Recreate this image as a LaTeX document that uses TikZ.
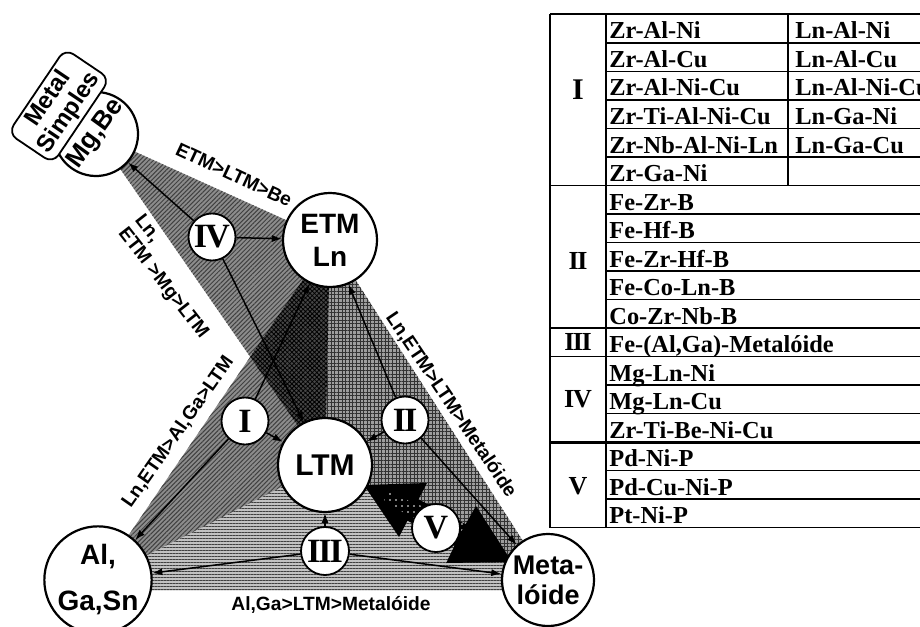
\documentclass[tikz,border=0pt]{standalone}
\usepackage{fontspec}
\setmainfont{Liberation Serif}
\setsansfont{Liberation Sans}
\usetikzlibrary{arrows.meta,patterns.meta}
\newcommand{\RomII}{I\kern-0.06em I}
\newcommand{\RomIII}{I\kern-0.06em I\kern-0.06em I}
\newcommand{\RomIV}{I\kern-0.05em V}
\begin{document}
\begin{tikzpicture}[x=0.5pt,y=-0.5pt,
  circ/.style={circle,draw=black,line width=1.1pt,fill=white,inner sep=0pt,align=center},
  numc/.style={circle,draw=black,line width=0.9pt,fill=white,inner sep=0pt,minimum size=23.5pt,font=\bfseries\fontsize{17}{17}\selectfont},
  arr/.style={line width=0.75pt,-{Latex[length=5pt,width=3.6pt]}},
  elab/.style={font=\sffamily\bfseries\fontsize{9.6}{10.5}\selectfont,inner sep=0pt},
  tabtxt/.style={anchor=base west,font=\bfseries\fontsize{12.2}{12.2}\selectfont,inner sep=0pt},
  tabnum/.style={font=\bfseries\fontsize{13}{13}\selectfont,inner sep=0pt},
  tline/.style={line width=0.7pt},
  regIII/.style={fill=black!24,postaction={pattern={Lines[angle=0,distance=1.5pt,line width=0.5pt]},pattern color=black!75}},
  regII/.style={fill=black!38,postaction={pattern={Hatch[angle=0,distance=1.8pt,line width=0.4pt]},pattern color=black!80}},
  regI/.style={fill=black!45,postaction={pattern={Lines[angle=45,distance=1.6pt,line width=0.5pt]},pattern color=black!75}},
  regX/.style={fill=black!72,postaction={pattern={Hatch[angle=45,distance=1.6pt,line width=0.4pt]},pattern color=black}},
]
\useasboundingbox (0,0) rectangle (920,626);
\fill[white] (0,0) rectangle (920,626);

% centres
\coordinate (cMg) at (96,134);
\coordinate (cETM) at (330,240);
\coordinate (cLTM) at (325,465);
\coordinate (cAl) at (98,580);
\coordinate (cMet) at (548,580);
\coordinate (X) at (intersection of cAl--cETM and cMg--cLTM);

% shaded regions
\path[regIII] (cAl) -- (cLTM) -- (cMet) -- (548,590) -- (98,590) -- cycle;
\path[regII] (cETM) -- (cLTM) -- (cMet) -- cycle;
\path[regI] (cAl) -- (cETM) -- (cLTM) -- cycle;
\path[regI] (cMg) -- (cETM) -- (cLTM) -- cycle;
\path[regX] (cETM) -- (X) -- (cLTM) -- cycle;

% V double arrow (dark)
\fill[black] (364,485) -- (427,483) -- (418.5,499.3) -- (465.5,524.3) -- (476,506)
  -- (512,562) -- (446.2,563) -- (454.5,545.7) -- (407.5,520.7) -- (399,537) -- cycle;
\fill[pattern={Dots[distance=3pt,radius=0.45pt]},pattern color=white]
  (384,500) -- (388,492) -- (465.5,524.3) -- (454.5,545.7) -- cycle;

% main circles
\node[circ,minimum size=42pt,rotate=54,font=\sffamily\bfseries\fontsize{13}{13}\selectfont] (mg) at (cMg) {Mg,Be};
\node[draw=black,line width=0.9pt,fill=white,rounded corners=5pt,rotate=56,minimum width=51pt,minimum height=27pt,inner sep=0pt,align=center,font=\sffamily\bfseries\fontsize{12}{12.5}\selectfont] (ms) at (59,106) {Metal\\Simples};
\node[circ,minimum size=47pt,font=\sffamily\bfseries\fontsize{14}{16.5}\selectfont] (etm) at (cETM) {ETM\\Ln};
\node[circ,minimum size=47pt,font=\sffamily\bfseries\fontsize{15}{15}\selectfont] (ltm) at (cLTM) {LTM};
\node[circ,minimum size=46pt,font=\sffamily\bfseries\fontsize{14}{23}\selectfont] (al) at (cAl) {Al,\\Ga,Sn};
\node[circ,minimum size=46pt,font=\sffamily\bfseries\fontsize{13.5}{15}\selectfont] (met) at (cMet) {Meta-\\lóide};

% numeral circles
\node[numc] (rI) at (245,421) {I};
\node[numc] (rII) at (405,420) {\RomII};
\node[numc,minimum size=24pt] (rIII) at (325,551) {\RomIII};
\node[numc] (rIV) at (212,237) {\RomIV};
\node[numc,minimum size=24pt] (rV) at (436,528) {V};

% arrows
\draw[arr] (rI) -- (ltm);
\draw[arr] (rI) -- (etm);
\draw[arr] (rI) -- (al);
\draw[arr] (rII) -- (etm);
\draw[arr] (rII) -- (ltm);
\draw[arr] (rII) -- (met);
\draw[arr] (rIII) -- (ltm);
\draw[arr] (rIII) -- (al);
\draw[arr] (rIII) -- (met);
\draw[arr] (rIV) -- (mg);
\draw[arr] (rIV) -- (etm);
\draw[arr] (rIV) -- (ltm);

% edge labels
\node[elab,rotate=-25] (l1) at (234,175) {ETM>LTM>Be};
\node[elab,rotate=-52,align=left] (l2) at (171,277) {Ln,\\ETM >Mg>LTM};
\node[elab,rotate=55] (l3) at (178,432) {Ln,ETM>Al,Ga>LTM};
\node[elab,rotate=-56] (l4) at (451,405) {Ln,ETM>LTM>Metalóide};
\node[elab] (l5) at (331,605) {Al,Ga>LTM>Metalóide};

% table
\foreach \yy in {14,185.5,328,356.5,527.5} \draw[tline] (550,\yy) -- (920,\yy);
\draw[line width=1.5pt] (550,442) -- (920,442);
\foreach \yy in {43,71.5,100,128.5,157,214,242.5,271,299.5,385,413.5,470.5,499} \draw[tline] (606,\yy) -- (920,\yy);
\draw[tline] (550,14) -- (550,527.5);
\draw[tline] (606,14) -- (606,527.5);
\draw[tline] (788,14) -- (788,185.5);

\foreach \txt [count=\i] in {Zr-Al-Ni,Zr-Al-Cu,Zr-Al-Ni-Cu,Zr-Ti-Al-Ni-Cu,Zr-Nb-Al-Ni-Ln,Zr-Ga-Ni,Fe-Zr-B,Fe-Hf-B,Fe-Zr-Hf-B,Fe-Co-Ln-B,Co-Zr-Nb-B,{Fe-(Al,Ga)-Metalóide},Mg-Ln-Ni,Mg-Ln-Cu,Zr-Ti-Be-Ni-Cu,Pd-Ni-P,Pd-Cu-Ni-P,Pt-Ni-P}
  \node[tabtxt] (ta\i) at (609,28.5*\i+10.5) {\txt};
\foreach \txt [count=\i] in {Ln-Al-Ni,Ln-Al-Cu,Ln-Al-Ni-Cu,Ln-Ga-Ni,Ln-Ga-Cu}
  \node[tabtxt] (tb\i) at (795,28.5*\i+10.5) {\txt};

\node[tabnum,font=\bfseries\fontsize{15}{15}\selectfont] (nI) at (578,90) {I};
\node[tabnum] (nII) at (578,261) {\RomII};
\node[tabnum] (nIII) at (578,342) {\RomIII};
\node[tabnum] (nIV) at (578,399) {\RomIV};
\node[tabnum] (nV) at (578,486) {V};
\end{tikzpicture}
\end{document}
